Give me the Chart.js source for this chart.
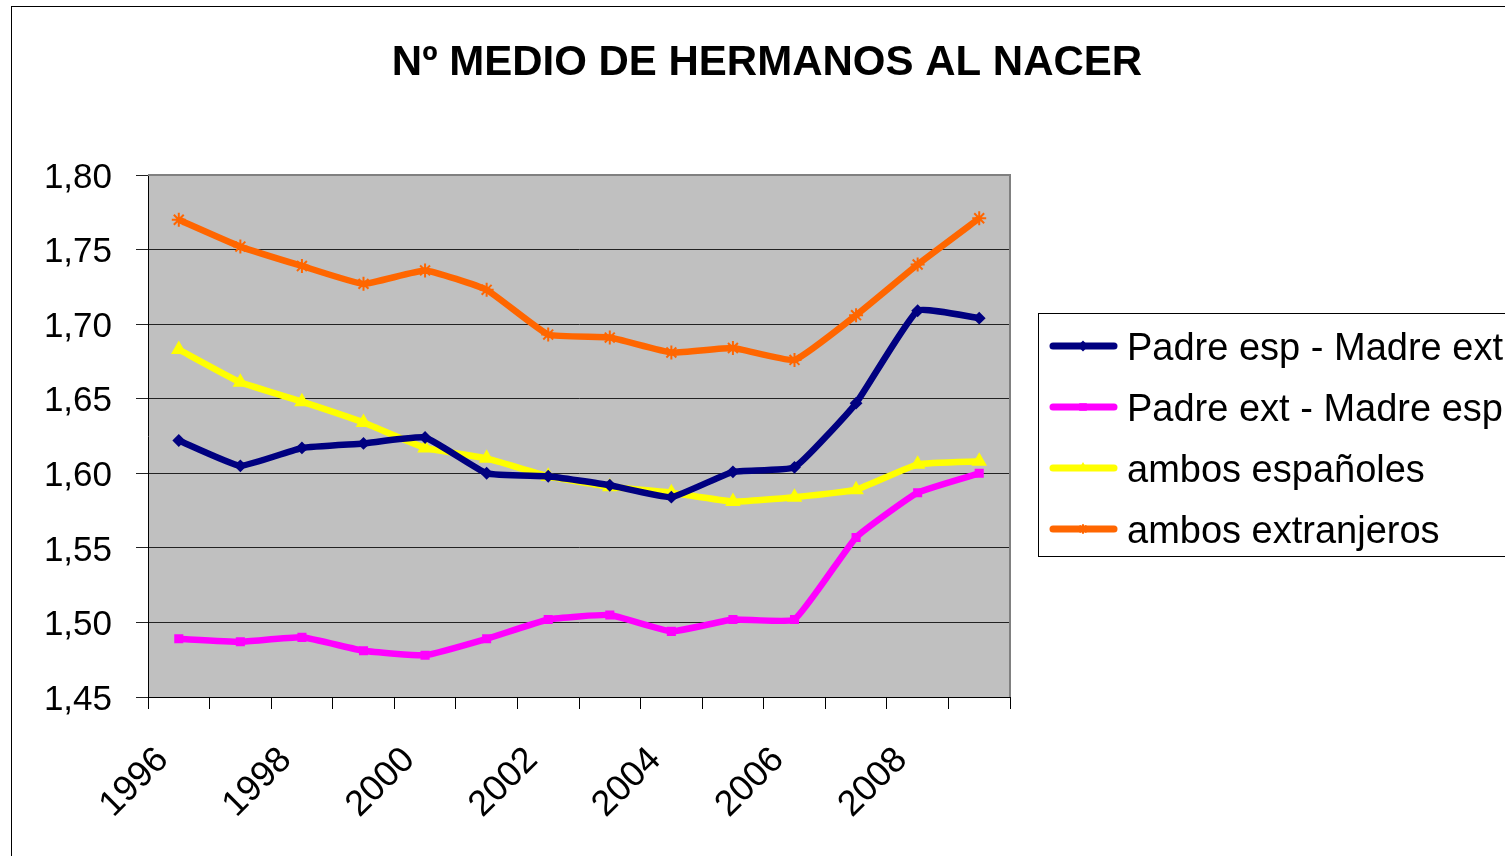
<!DOCTYPE html>
<html>
<head>
<meta charset="utf-8">
<script src="https://cdn.jsdelivr.net/npm/chart.js@4/dist/chart.umd.min.js"></script>
<style>
  html, body { margin: 0; padding: 0; background: #fff; }
  #wrap { width: 1505px; height: 856px; }
</style>
</head>
<body>
<div id="wrap"><canvas id="grafico"></canvas></div>
<script>
const years = ['1996','1997','1998','1999','2000','2001','2002','2003','2004','2005','2006','2007','2008','2009'];
const padreEspMadreExt = [1.622, 1.605, 1.617, 1.620, 1.624, 1.600, 1.598, 1.592, 1.584, 1.601, 1.604, 1.647, 1.709, 1.704];
const padreExtMadreEsp = [1.489, 1.487, 1.490, 1.481, 1.478, 1.489, 1.502, 1.505, 1.494, 1.502, 1.502, 1.557, 1.587, 1.600];
const ambosEspanoles = [1.683, 1.661, 1.648, 1.634, 1.617, 1.610, 1.598, 1.591, 1.587, 1.581, 1.584, 1.589, 1.606, 1.608];
const ambosExtranjeros = [1.770, 1.752, 1.739, 1.727, 1.736, 1.723, 1.693, 1.691, 1.681, 1.684, 1.676, 1.706, 1.740, 1.771];
const yTicks = [1.45, 1.50, 1.55, 1.60, 1.65, 1.70, 1.75, 1.80];

const FONT = "'Liberation Sans', Arial, sans-serif";
const title = 'Nº MEDIO DE HERMANOS AL NACER';

function serie(label, data, color, style, radius) {
    return {
        label: label,
        data: data,
        borderColor: color,
        backgroundColor: color,
        borderWidth: 6.5,
        pointStyle: style,
        pointRadius: radius,
        pointBorderWidth: 2,
        pointBorderColor: color,
        pointBackgroundColor: color,
        tension: 0.12,
        fill: false
    };
}

const datasets = [
    serie('Padre esp - Madre ext', padreEspMadreExt, '#000080', 'rectRot', 5),
    serie('Padre ext - Madre esp', padreExtMadreEsp, '#ff00ff', 'rect', 5),
    serie('ambos españoles', ambosEspanoles, '#ffff00', 'triangle', 7),
    serie('ambos extranjeros', ambosExtranjeros, '#ff6600', 'star', 7)
];

// fondo, marco, título y leyenda
const decor = {
    id: 'decor',
    beforeDraw(chart) {
        const { ctx, chartArea: a } = chart;
        ctx.save();
        ctx.fillStyle = '#fff';
        ctx.fillRect(0, 0, chart.width, chart.height);
        ctx.strokeStyle = '#000';
        ctx.lineWidth = 1;
        ctx.strokeRect(11.5, 6.5, 2000, 2000);
        ctx.fillStyle = '#c0c0c0';
        ctx.fillRect(a.left, a.top, a.right - a.left, a.bottom - a.top);
        ctx.restore();
    },
    afterDatasetsDraw(chart) {
        const { ctx, chartArea: a } = chart;
        ctx.save();
        ctx.strokeStyle = '#808080';
        ctx.lineWidth = 2;
        ctx.beginPath();
        ctx.moveTo(a.left, a.top);
        ctx.lineTo(a.right, a.top);
        ctx.lineTo(a.right, a.bottom);
        ctx.stroke();
        ctx.restore();
    },
    afterDraw(chart) {
        const ctx = chart.ctx;
        ctx.save();
        ctx.fillStyle = '#000';
        ctx.font = 'bold 42px ' + FONT;
        ctx.textAlign = 'center';
        ctx.textBaseline = 'alphabetic';
        ctx.fillText(title, 767, 75);

        ctx.strokeStyle = '#000';
        ctx.lineWidth = 1;
        ctx.strokeRect(1038.5, 313.5, 600, 243);
        ctx.font = '38px ' + FONT;
        ctx.textAlign = 'left';
        chart.data.datasets.forEach((ds, i) => {
            const y = 346 + i * 61;
            ctx.strokeStyle = ds.borderColor;
            ctx.fillStyle = ds.borderColor;
            ctx.lineWidth = 7;
            ctx.lineCap = 'round';
            ctx.beginPath();
            ctx.moveTo(1053, y);
            ctx.lineTo(1114, y);
            ctx.stroke();
            ctx.lineWidth = 2;
            Chart.helpers.drawPoint(ctx, {
                pointStyle: ds.pointStyle,
                radius: 4,
                borderWidth: 2
            }, 1083, y);
            ctx.fillStyle = '#000';
            ctx.fillText(ds.label, 1127, y + 14);
        });
        ctx.restore();
    }
};

new Chart(document.getElementById('grafico'), {
    type: 'line',
    data: { labels: years, datasets: datasets },
    plugins: [decor],
    options: {
        responsive: true,
        maintainAspectRatio: false,
        animation: false,
        layout: { padding: { top: 175, left: 20, right: 495, bottom: 0 } },
        plugins: {
            legend: { display: false },
            title: { display: false },
            tooltip: { enabled: false }
        },
        scales: {
            x: {
                offset: true,
                grid: { offset: true, drawOnChartArea: false, tickLength: 12, color: '#000' },
                border: { color: '#000', width: 1 },
                ticks: {
                    autoSkip: false,
                    minRotation: 45,
                    maxRotation: 45,
                    padding: 30,
                    labelOffset: -16,
                    color: '#000',
                    font: { family: FONT, size: 36 },
                    callback: function (v, i) { return i % 2 === 0 ? years[i] : ''; }
                },
                afterFit: function (s) { s.height = 856 - 697; }
            },
            y: {
                min: 1.45,
                max: 1.80,
                afterBuildTicks: function (s) { s.ticks = yTicks.map(v => ({ value: v })); },
                grid: { color: '#222', tickLength: 12, lineWidth: 1 },
                border: { color: '#000', width: 1 },
                ticks: {
                    padding: 24,
                    labelOffset: 3,
                    color: '#000',
                    font: { family: FONT, size: 35 },
                    callback: function (v) { return v.toFixed(2).replace('.', ','); }
                },
                afterFit: function (s) { s.width = 148 - 20; }
            }
        }
    }
});
</script>
</body>
</html>
